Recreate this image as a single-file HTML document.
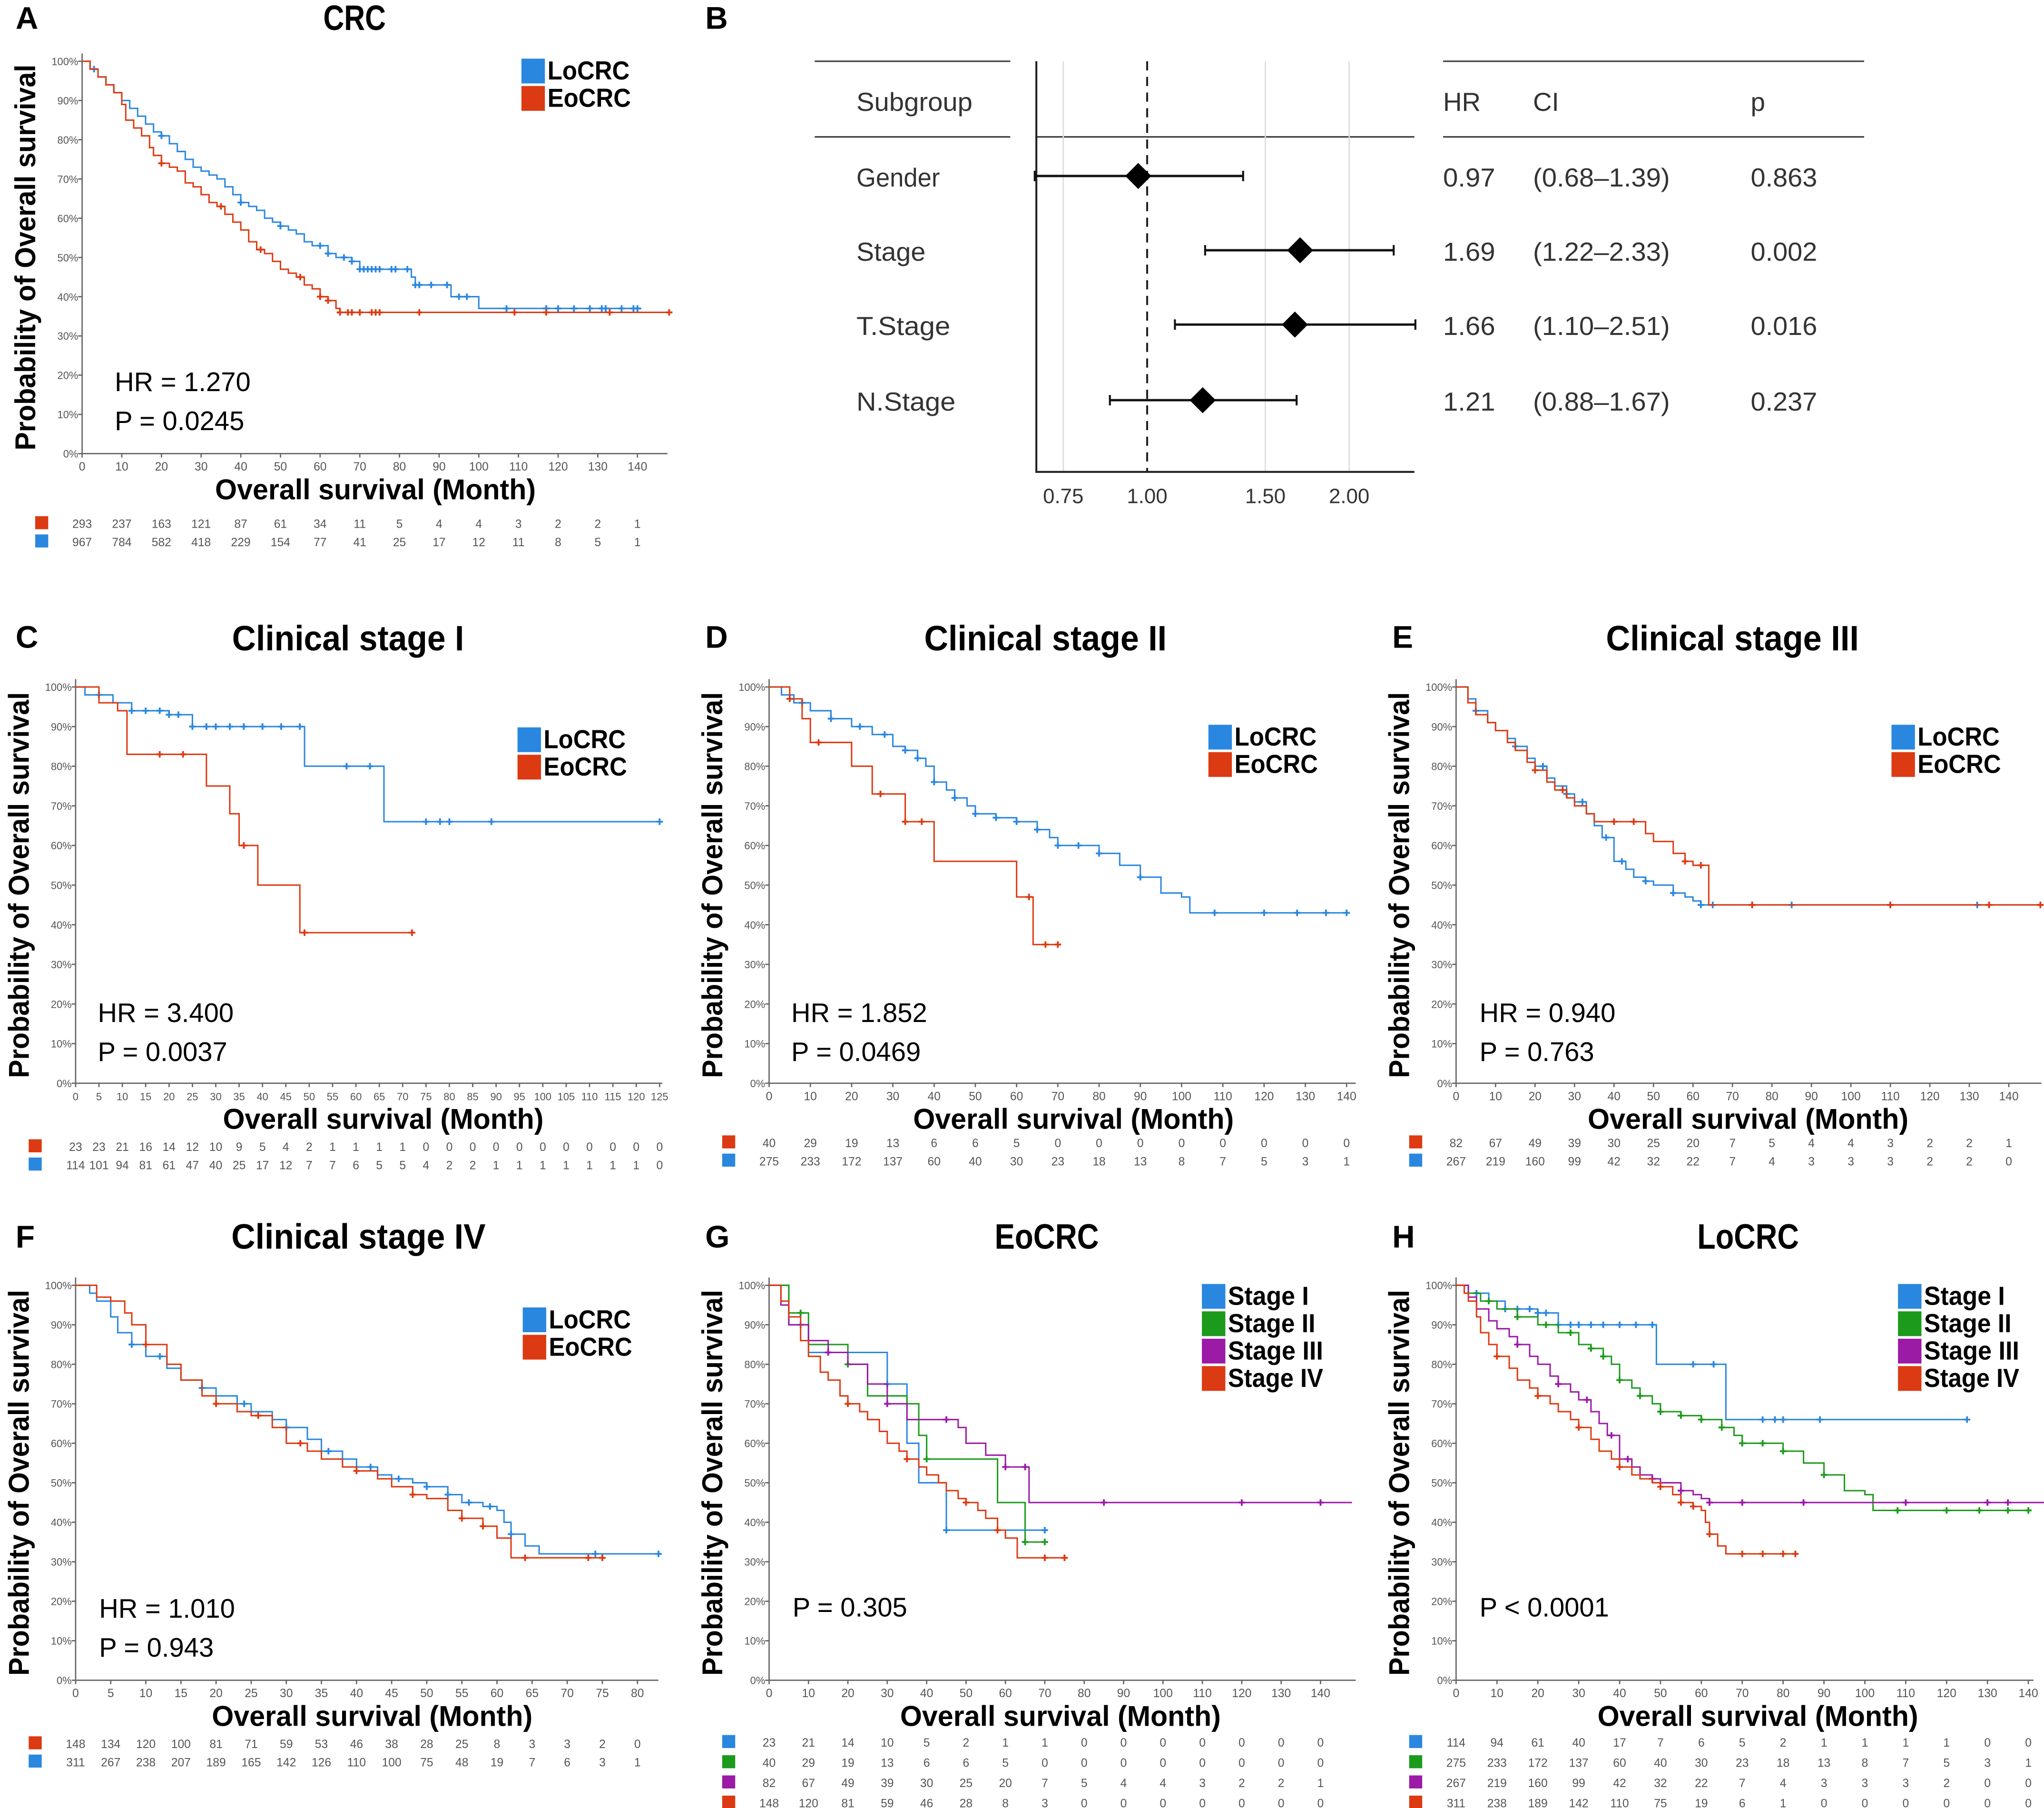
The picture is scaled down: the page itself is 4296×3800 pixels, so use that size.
<!DOCTYPE html>
<html><head><meta charset="utf-8"><style>
html,body{margin:0;padding:0;background:#fff;}
svg{display:block;}
text{font-family:"Liberation Sans",sans-serif;}
</style></head><body>
<svg id="fig" xmlns="http://www.w3.org/2000/svg" width="4296" height="3800" viewBox="0 0 1568 1387" preserveAspectRatio="none">
<rect x="0" y="0" width="1568" height="1387" fill="#fff"/>
<g id="forest"></g>
</svg>
<script>
const NS="http://www.w3.org/2000/svg";
const svg=document.getElementById('fig');
const BLUE="#2a87df",RED="#dc3a12",GREEN="#1c9a1c",PURPLE="#9b1aa6";

// ---------- data (month, survival %) ----------
const aLo=[[0,100],[2,98],[4,96],[6,94],[8,92],[10,90],[12,88],[14,86],[16,84],[18,82],[20,81],[22,79],[24,77],[26,75],[28,73],[30,72],[32,71],[34,70],[36,68],[38,66],[40,64],[42,63],[44,62],[46,60],[48,59],[50,58],[52,57],[54,56],[56,54],[58,53],[60,53],[62,51],[64,50],[66,50],[68,49],[70,47],[82,47],[83,45],[84,43],[92,43],[93,40],[99,40],[100,37],[141,37]];
const aEo=[[0,100],[2,98],[4,96],[6,94],[8,92],[10,89],[11,85],[13,83],[15,81],[17,78],[18,76],[20,74],[22,73],[24,72],[26,69],[28,68],[30,66],[32,64],[34,63],[36,61],[38,59],[40,57],[42,54],[44,52],[46,51],[48,49],[50,47],[52,46],[54,45],[56,43],[58,42],[60,40],[62,39],[64,37],[65,36],[148,36]];
const aLoCens=[3,20,40,50,60,62,66,68,70,71,72,73,74,75,78,79,82,84,85,88,92,95,97,107,117,120,124,128,131,132,136,139,140];
const aEoCens=[20,35,45,55,60,62,65,67,68,70,73,74,75,85,109,117,133,148];
const cLo=[[0,100],[2,98],[8,96],[12,94],[20,93],[25,90],[48,90],[49,80],[65,80],[66,66],[125,66]];
const cEo=[[0,100],[5,96],[9,94],[11,83],[27,83],[28,75],[32,75],[33,68],[35,60],[38,60],[39,50],[47,50],[48,38],[72,38]];
const cLoCens=[5,12,15,18,20,22,25,28,30,33,36,40,44,48,58,63,75,78,80,89,125];
const cEoCens=[18,23,36,49,72];
const dLo=[[0,100],[3,98],[6,96],[10,94],[15,92],[20,90],[25,88],[30,85],[33,84],[36,82],[38,80],[40,76],[43,74],[45,72],[48,70],[50,68],[55,67],[60,66],[65,64],[68,62],[70,60],[80,58],[85,55],[90,52],[95,48],[100,47],[102,43],[140,43]];
const dEo=[[0,100],[5,97],[8,92],[10,86],[15,86],[20,80],[25,73],[30,73],[33,66],[38,66],[40,56],[58,56],[60,47],[63,47],[64,35],[70,35]];
const dLoCens=[8,15,22,28,33,36,40,45,50,55,60,65,70,75,80,90,108,120,128,135,140];
const dEoCens=[5,12,27,33,37,63,67,70];
const eLo=[[0,100],[3,97],[5,94],[8,91],[10,89],[13,87],[15,85],[18,82],[20,80],[23,77],[25,75],[28,73],[30,71],[33,68],[35,65],[37,62],[40,56],[43,54],[45,52],[48,51],[50,50],[55,48],[58,47],[60,46],[62,45],[148,45]];
const eEo=[[0,100],[3,96],[5,93],[8,91],[10,89],[13,86],[15,84],[18,81],[20,79],[23,76],[25,74],[28,72],[30,70],[33,68],[35,66],[45,66],[48,63],[50,61],[55,58],[58,56],[60,55],[63,55],[64,45],[148,45]];
const eLoCens=[5,15,22,28,32,38,42,48,55,62,65,75,85,110,132];
const eEoCens=[20,27,40,45,58,62,75,110,135,148];
const fLo=[[0,100],[2,98],[3,96],[5,92],[6,88],[8,85],[10,82],[13,79],[15,76],[18,74],[20,72],[23,70],[25,68],[28,66],[30,64],[33,61],[35,58],[38,56],[40,54],[43,52],[45,51],[48,50],[50,49],[53,47],[55,45],[58,44],[60,43],[61,40],[62,37],[64,34],[66,32],[83,32]];
const fEo=[[0,100],[3,97],[5,96],[7,93],[8,90],[10,85],[13,80],[15,76],[18,72],[20,70],[23,68],[25,67],[28,64],[30,60],[33,58],[35,56],[38,54],[40,53],[43,51],[45,49],[48,47],[50,46],[53,43],[55,41],[58,39],[60,36],[62,31],[75,31]];
const fLoCens=[8,12,18,24,30,36,42,46,50,53,56,59,62,74,83];
const fEoCens=[10,20,26,32,40,48,55,58,64,73,75];
const gS1=[[0,100],[5,90],[10,83],[25,83],[30,75],[35,60],[38,50],[45,38],[70,38]];
const gS2=[[0,100],[5,93],[10,85],[20,80],[25,72],[35,70],[38,62],[40,56],[55,56],[58,45],[62,45],[65,35],[70,35]];
const gS3=[[0,100],[3,95],[5,90],[10,86],[15,83],[20,80],[25,75],[30,70],[35,66],[45,66],[48,64],[50,60],[55,57],[60,54],[65,54],[66,45],[148,45]];
const gS4=[[0,100],[3,96],[5,92],[8,86],[10,82],[13,78],[15,76],[18,72],[20,70],[23,68],[25,66],[28,63],[30,60],[33,58],[35,56],[38,54],[40,52],[43,50],[45,48],[48,46],[50,45],[53,43],[55,41],[58,38],[60,36],[63,31],[75,31]];
const gS3Cens=[15,30,45,60,65,85,120,140];
const gS4Cens=[20,35,50,58,70,75];
const hS1=cLo;
const hS2=dLo.slice(0,-1).concat([[140,43]]);
const hS3=eLo.slice(0,-1).concat([[145,45]]);
const hS4=fLo.slice();

const riskA=[[293,237,163,121,87,61,34,11,5,4,4,3,2,2,1],[967,784,582,418,229,154,77,41,25,17,12,11,8,5,1]];
const riskC=[[23,23,21,16,14,12,10,9,5,4,2,1,1,1,1,0,0,0,0,0,0,0,0,0,0,0],[114,101,94,81,61,47,40,25,17,12,7,7,6,5,5,4,2,2,1,1,1,1,1,1,1,0]];
const riskD=[[40,29,19,13,6,6,5,0,0,0,0,0,0,0,0],[275,233,172,137,60,40,30,23,18,13,8,7,5,3,1]];
const riskE=[[82,67,49,39,30,25,20,7,5,4,4,3,2,2,1],[267,219,160,99,42,32,22,7,4,3,3,3,2,2,0]];
const riskF=[[148,134,120,100,81,71,59,53,46,38,28,25,8,3,3,2,0],[311,267,238,207,189,165,142,126,110,100,75,48,19,7,6,3,1]];
const riskG=[[23,21,14,10,5,2,1,1,0,0,0,0,0,0,0],[40,29,19,13,6,6,5,0,0,0,0,0,0,0,0],[82,67,49,39,30,25,20,7,5,4,4,3,2,2,1],[148,120,81,59,46,28,8,3,0,0,0,0,0,0,0]];
const riskH=[[114,94,61,40,17,7,6,5,2,1,1,1,1,0,0],[275,233,172,137,60,40,30,23,18,13,8,7,5,3,1],[267,219,160,99,42,32,22,7,4,3,3,3,2,0,0],[311,238,189,142,110,75,19,6,1,0,0,0,0,0,0]];

const forestLabels=["Gender","Stage","T.Stage","N.Stage"];
const forestHR=[0.97,1.69,1.66,1.21];
const forestLo=[0.68,1.22,1.10,0.88];
const forestHi=[1.39,2.33,2.51,1.67];
const forestP=["0.863","0.002","0.016","0.237"];
const forestTicks=[0.75,1.00,1.50,2.00];

// ---------- helpers ----------
function el(tag,attrs,parent,txt){const e=document.createElementNS(NS,tag);for(const k in attrs)e.setAttribute(k,attrs[k]);if(txt!==undefined)e.textContent=txt;(parent||svg).appendChild(e);return e;}
function fit(e,w){e.setAttribute('textLength',w);e.setAttribute('lengthAdjust','spacingAndGlyphs');return e;}
function survAt(curve,t){let s=curve[0][1];for(const p of curve){if(p[0]<=t)s=p[1];else break;}return s;}
const LEGW={'LoCRC':63,'EoCRC':64,'Stage I':62,'Stage II':67,'Stage III':73,'Stage IV':73};

function panel(cfg){
  const g=el('g',{});
  
  
  const xs=t=>cfg.x0+t/cfg.tmax*(cfg.xt-cfg.x0);
  const ys=s=>cfg.yb-s/100*(cfg.yb-cfg.yt);
  const L=el('text',{x:cfg.lx,y:cfg.ly,'font-size':24,'font-weight':'bold'},g,cfg.letter);
  
  const T=fit(el('text',{x:cfg.tx,y:cfg.ty||cfg.yt-28,'font-size':27,'font-weight':'bold','text-anchor':'middle'},g,cfg.title),cfg.tw);
  
  const ax=el('path',{d:`M${cfg.x0},${cfg.yt-6}V${cfg.yb}H${cfg.xEnd}`,stroke:'#666','stroke-width':1,fill:'none'},g);
  
  for(let v=0;v<=100;v+=10){
    el('line',{x1:cfg.x0-3,x2:cfg.x0,y1:ys(v),y2:ys(v),stroke:'#666'},g);
    const t=el('text',{x:cfg.x0-3,y:ys(v)+3,'font-size':8,fill:'#555','text-anchor':'end'},g,v+'%');
    
  }
  for(let v=0;v<=cfg.tmax;v+=cfg.step){
    el('line',{x1:xs(v),x2:xs(v),y1:cfg.yb,y2:cfg.yb+3,stroke:'#666'},g);
    const t=el('text',{x:xs(v),y:cfg.yb+13,'font-size':cfg.step===5&&cfg.tmax>100?8:9,fill:'#555','text-anchor':'middle'},g,String(v));
    
  }
  const yt=fit(el('text',{transform:`translate(${cfg.x0-36},${(cfg.yt+cfg.yb)/2}) rotate(-90)`,'font-size':22,'font-weight':'bold','text-anchor':'middle'},g,'Probability of Overall survival'),296);
  
  const xt=fit(el('text',{x:(cfg.x0+cfg.xt)/2+12,y:cfg.yb+35,'font-size':22,'font-weight':'bold','text-anchor':'middle'},g,'Overall survival (Month)'),246);
  
  cfg.series.forEach((s,i)=>{
    let d='';s.curve.forEach((p,j)=>{const X=xs(p[0]),Y=ys(p[1]);if(j===0)d=`M${X},${Y}`;else d+=`H${X}V${Y}`;});
    const ln=el('path',{d:d,stroke:s.color,'stroke-width':1.1,fill:'none'},g);
    
    
    (s.cens||[]).forEach(t=>{
      const X=xs(t),Y=ys(survAt(s.curve,t));
      const c=el('path',{d:`M${X-2.5},${Y}H${X+2.5}M${X},${Y-2.5}V${Y+2.5}`,stroke:s.color,'stroke-width':1.4},g);
      
    });
  });
  cfg.series.forEach((s,i)=>{
    const y=cfg.legY+i*21;
    const r=el('rect',{x:cfg.legX,y:y,width:18,height:19,fill:s.color},g);
    
    const t=fit(el('text',{x:cfg.legX+20,y:y+16,'font-size':20,'font-weight':'bold'},g,s.name),LEGW[s.name]);
    
  });
  cfg.stats.forEach((s,i)=>{
    const t=el('text',{x:cfg.sx,y:cfg.sy+i*30,'font-size':20.5},g,s);
    
  });
  const cols=cfg.riskColors||cfg.series.map(s=>s.color);
  cfg.risk.forEach((row,i)=>{
    const y=cfg.ry+i*cfg.rdy;
    const r=el('rect',{x:cfg.x0-36,y:y-9,width:10,height:10,fill:cols[i]},g);
    
    row.forEach((v,j)=>{
      const t=el('text',{x:xs(j*cfg.step),y:y,'font-size':9,fill:'#555','text-anchor':'middle'},g,String(v));
      
    });
  });
}

function draw2(cfg,lo,eo,lc,ec){
  cfg.series=[{name:'LoCRC',color:BLUE,curve:lo,cens:lc},{name:'EoCRC',color:RED,curve:eo,cens:ec}];
  cfg.riskColors=[RED,BLUE];
  panel(cfg);
}

draw2({letter:'A',lx:12,ly:22,title:'CRC',tw:48,tx:272,ty:23,x0:63,xt:489,tmax:140,step:10,yt:47,yb:348,xEnd:512,legX:400,legY:45,stats:['HR = 1.270','P = 0.0245'],sx:88,sy:300,risk:riskA,ry:405,rdy:14},aLo,aEo,aLoCens,aEoCens);
draw2({letter:'C',lx:12,ly:497,title:'Clinical stage I',tw:178,tx:267,x0:58,xt:506,tmax:125,step:5,yt:527,yb:831,xEnd:508,legX:397,legY:558,stats:['HR = 3.400','P = 0.0037'],sx:75,sy:784,risk:riskC,ry:883,rdy:14},cLo,cEo,cLoCens,cEoCens);
draw2({letter:'D',lx:541,ly:497,title:'Clinical stage II',tw:186,tx:802,x0:590,xt:1033,tmax:140,step:10,yt:527,yb:831,xEnd:1040,legX:927,legY:556,stats:['HR = 1.852','P = 0.0469'],sx:607,sy:784,risk:riskD,ry:880,rdy:14},dLo,dEo,dLoCens,dEoCens);
draw2({letter:'E',lx:1068,ly:497,title:'Clinical stage III',tw:194,tx:1329,x0:1117,xt:1541,tmax:140,step:10,yt:527,yb:831,xEnd:1566,legX:1451,legY:556,stats:['HR = 0.940','P = 0.763'],sx:1135,sy:784,risk:riskE,ry:880,rdy:14},eLo,eEo,eLoCens,eEoCens);
draw2({letter:'F',lx:12,ly:957,title:'Clinical stage IV',tw:195,tx:275,x0:58,xt:489,tmax:80,step:5,yt:986,yb:1289,xEnd:505,legX:401,legY:1003,stats:['HR = 1.010','P = 0.943'],sx:76,sy:1241,risk:riskF,ry:1341,rdy:14},fLo,fEo,fLoCens,fEoCens);

panel({letter:'G',lx:541,ly:957,title:'EoCRC',tw:80,tx:803,x0:590,xt:1013,tmax:140,step:10,yt:986,yb:1289,xEnd:1040,legX:922,legY:985,stats:['P = 0.305'],sx:608,sy:1240,
 series:[{name:'Stage I',color:BLUE,curve:gS1,cens:[8,30,45,70]},{name:'Stage II',color:GREEN,curve:gS2,cens:[8,20,40,65,70]},{name:'Stage III',color:PURPLE,curve:gS3,cens:gS3Cens},{name:'Stage IV',color:RED,curve:gS4,cens:gS4Cens}],
 risk:riskG,ry:1340,rdy:15.5});
panel({letter:'H',lx:1068,ly:957,title:'LoCRC',tw:78,tx:1341,x0:1117,xt:1556,tmax:140,step:10,yt:986,yb:1289,xEnd:1560,legX:1456,legY:985,stats:['P < 0.0001'],sx:1135,sy:1240,
 series:[{name:'Stage I',color:BLUE,curve:hS1,cens:cLoCens},{name:'Stage II',color:GREEN,curve:hS2,cens:dLoCens},{name:'Stage III',color:PURPLE,curve:hS3,cens:[15,25,32,38,42,48,55,62,70,85,110,130,135]},{name:'Stage IV',color:RED,curve:hS4,cens:[10,20,30,40,50,55,58,62,70,75,80,83]}],
 risk:riskH,ry:1340,rdy:15.5});

// ---------- forest plot ----------
const fg=document.getElementById('forest');
const fx=v=>880+223.6*Math.log(v);
const rowY=[135,192,249,307];
el('text',{x:541,y:22,'font-size':24,'font-weight':'bold'},fg,'B');
[[625,775,47],[1107,1430,47],[625,775,105],[795,1085,105],[1107,1430,105]].forEach(a=>el('line',{x1:a[0],x2:a[1],y1:a[2],y2:a[2],stroke:'#444','stroke-width':1.2},fg));
forestTicks.forEach(v=>{
  if(v!==1)el('line',{x1:fx(v),x2:fx(v),y1:47,y2:362,stroke:'#ddd','stroke-width':1},fg);
  const t=el('text',{x:fx(v),y:386,'font-size':16,fill:'#333','text-anchor':'middle'},fg,v.toFixed(2));
  
});
el('line',{x1:fx(1),x2:fx(1),y1:47,y2:362,stroke:'#222','stroke-width':1.5,'stroke-dasharray':'7,5'},fg);
el('path',{d:'M795,47V362H1085',stroke:'#222','stroke-width':1.5,fill:'none'},fg);
[['Subgroup',657,89],['HR',1107,0],['CI',1176,0],['p',1343,0]].forEach(h=>{const t=el('text',{x:h[1],y:85,'font-size':20,fill:'#333'},fg,h[0]);if(h[2])fit(t,h[2]);});
const labW=[64,53,72,76];
forestLabels.forEach((lab,i)=>{
  const y=rowY[i];
  const a=fit(el('text',{x:657,y:y+8,'font-size':20,fill:'#333'},fg,lab),labW[i]);
  
  const ci=el('line',{x1:fx(forestLo[i]),x2:Math.min(fx(forestHi[i]),1086),y1:y,y2:y,stroke:'#111','stroke-width':1.8},fg);
  
  [fx(forestLo[i]),Math.min(fx(forestHi[i]),1086)].forEach(X=>el('line',{x1:X,x2:X,y1:y-4,y2:y+4,stroke:'#111','stroke-width':1.5},fg));
  const X=fx(forestHR[i]);
  const dm=el('path',{d:`M${X},${y-10}L${X+10},${y}L${X},${y+10}L${X-10},${y}Z`,fill:'#000'},fg);
  
  const h=fit(el('text',{x:1107,y:y+8,'font-size':20,fill:'#333'},fg,forestHR[i].toFixed(2)),40);
  
  const c=fit(el('text',{x:1176,y:y+8,'font-size':20,fill:'#333'},fg,'('+forestLo[i].toFixed(2)+'\u2013'+forestHi[i].toFixed(2)+')'),105);
  
  const p=fit(el('text',{x:1343,y:y+8,'font-size':20,fill:'#333'},fg,forestP[i]),51);
  
});
</script>
</body></html>
